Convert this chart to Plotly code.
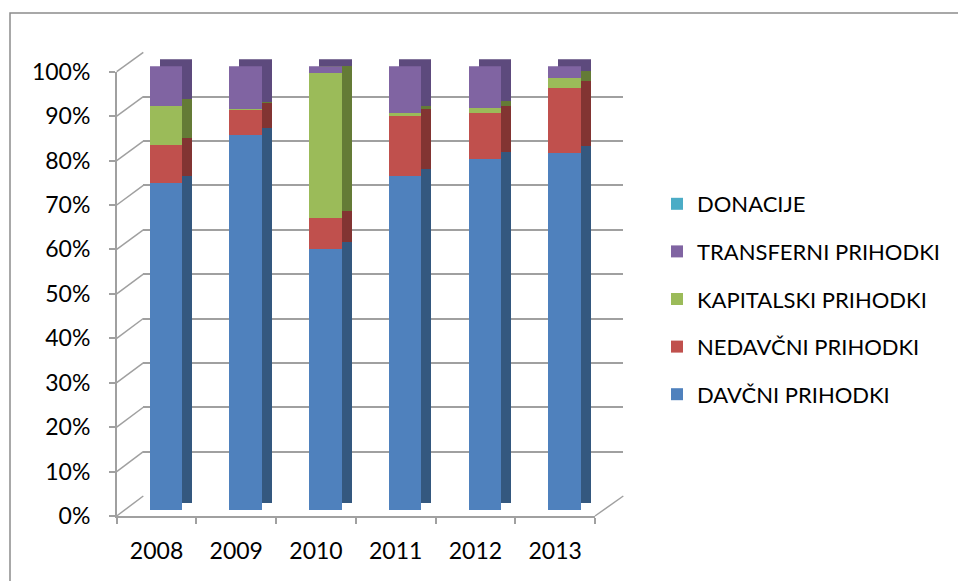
import plotly.graph_objects as go

# ---------------- data (percent shares) ----------------
years = ["2008", "2009", "2010", "2011", "2012", "2013"]
davcni = [73.7, 84.4, 58.7, 75.3, 79.0, 80.3]
nedavcni = [8.4, 5.7, 7.1, 13.6, 10.3, 14.8]
kapitalski = [9.0, 0.3, 32.7, 0.4, 1.2, 2.3]
transferni = [8.9, 9.6, 1.5, 10.7, 9.5, 2.6]
donacije = [0.0, 0.0, 0.0, 0.0, 0.0, 0.0]

series = [
    ("DAVČNI PRIHODKI", davcni, "#4F81BD", "#34587F"),
    ("NEDAVČNI PRIHODKI", nedavcni, "#C0504D", "#823432"),
    ("KAPITALSKI PRIHODKI", kapitalski, "#9BBB59", "#647B36"),
    ("TRANSFERNI PRIHODKI", transferni, "#8064A2", "#5D4A7D"),
    ("DONACIJE", donacije, "#4BACC6", "#2F7A8F"),
]
y_ticks = list(range(0, 101, 10))

# ---------------- geometry (pixels) ----------------
W, H = 958, 581
def px(x):
    return x / W
def py(y):
    return (H - y) / H

FRONT = dict(x0=116.7, x1=595.0, y0=516.0, y1=71.7)     # front axis plane
BACK = dict(x0=143.3, x1=623.3, y0=496.0, y1=52.3)      # back wall
BARS = dict(x0=126.2, x1=604.5, y0=510.0, y1=66.2)      # bar front faces
SIDE = dict(x0=136.2, x1=614.5, y0=503.0, y1=59.2)      # bar depth copies

GRID = "#A0A0A0"
FONT = "Lato"
BAR_W = 0.407

fig = go.Figure()

# empty traces so that the back wall and front axis subplots are drawn
fig.add_trace(go.Scatter(x=[], y=[], xaxis="x", yaxis="y", showlegend=False, hoverinfo="skip"))

# depth (side/top) faces
for name, vals, col, dark in series:
    fig.add_trace(go.Bar(
        x=years, y=vals, name=name, marker=dict(color=dark, line=dict(width=0)),
        width=BAR_W, xaxis="x2", yaxis="y2", showlegend=False, hoverinfo="skip",
    ))
# front faces
n = len(series)
for i, (name, vals, col, dark) in enumerate(series):
    fig.add_trace(go.Bar(
        x=years, y=vals, name=name, marker=dict(color=col, line=dict(width=0)),
        width=BAR_W, xaxis="x3", yaxis="y3", legendgroup=name, legendrank=n - i,
    ))

fig.add_trace(go.Scatter(x=[], y=[], xaxis="x4", yaxis="y4", showlegend=False, hoverinfo="skip"))

def dom(g):
    return [px(g["x0"]), px(g["x1"])], [py(g["y0"]), py(g["y1"])]

bx, by = dom(BACK)
sx, sy = dom(SIDE)
fx3, fy3 = dom(BARS)
fx, fy = dom(FRONT)

hidden = dict(showgrid=False, zeroline=False, showline=False, showticklabels=False, ticks="",
              automargin=False)

fig.update_layout(
    width=W, height=H, autosize=False,
    margin=dict(l=0, r=0, t=0, b=0, autoexpand=False),
    paper_bgcolor="white", plot_bgcolor="rgba(0,0,0,0)",
    barmode="stack", bargap=0,
    font=dict(family=FONT, color="#000000"),
    # back wall
    xaxis=dict(domain=bx, range=[-0.5, 5.5], anchor="y", **hidden),
    yaxis=dict(domain=by, range=[0, 100], anchor="x", showgrid=True, gridcolor=GRID,
               gridwidth=1.5, dtick=10, tick0=0, zeroline=False, showline=False,
               showticklabels=False, ticks="", automargin=False),
    # depth copies
    xaxis2=dict(domain=sx, range=[-0.5, 5.5], anchor="y2", type="category", **hidden),
    yaxis2=dict(domain=sy, range=[0, 100], anchor="x2", **hidden),
    # front faces
    xaxis3=dict(domain=fx3, range=[-0.5, 5.5], anchor="y3", type="category", **hidden),
    yaxis3=dict(domain=fy3, range=[0, 100], anchor="x3", **hidden),
    # front axis with labels
    xaxis4=dict(domain=fx, range=[-0.5, 5.5], anchor="y4", showgrid=False, zeroline=False,
                showline=True, linecolor=GRID, linewidth=1.5, automargin=False,
                tickmode="array", tickvals=list(range(len(years))), ticktext=years,
                ticks="", tickfont=dict(size=23, family=FONT, color="#000"),
                ticklabelstandoff=14,
                minor=dict(tickmode="array", tickvals=[i - 0.5 for i in range(len(years) + 1)],
                           ticks="outside", ticklen=6, tickcolor=GRID, tickwidth=1.5,
                           showgrid=False)),
    yaxis4=dict(domain=fy, range=[0, 100], anchor="x4", showgrid=False, zeroline=False,
                showline=True, linecolor=GRID, linewidth=1.5, automargin=False,
                tickmode="array", tickvals=y_ticks, ticktext=[f"{v}%" for v in y_ticks],
                ticks="outside", ticklen=6, tickcolor=GRID, tickwidth=1.5,
                tickfont=dict(size=23, family=FONT, color="#000"),
                ticklabelstandoff=14),
    legend=dict(x=px(657), y=py(183), xanchor="left", yanchor="top",
                traceorder="grouped", tracegroupgap=16,
                font=dict(size=22, family=FONT, color="#000"),
                bgcolor="rgba(0,0,0,0)"),
    showlegend=True,
)

shapes = []
# connectors front axis ticks -> back wall grid
for v in y_ticks:
    yf = FRONT["y0"] + (FRONT["y1"] - FRONT["y0"]) * v / 100
    yb = BACK["y0"] + (BACK["y1"] - BACK["y0"]) * v / 100
    shapes.append(dict(type="line", xref="paper", yref="paper",
                       x0=px(FRONT["x0"]), y0=py(yf), x1=px(BACK["x0"]), y1=py(yb),
                       line=dict(color=GRID, width=1.5), layer="below"))
# floor right edge
shapes.append(dict(type="line", xref="paper", yref="paper",
                   x0=px(FRONT["x1"]), y0=py(FRONT["y0"]), x1=px(BACK["x1"]), y1=py(BACK["y0"]),
                   line=dict(color=GRID, width=1.5), layer="below"))
# outer chart border
shapes.append(dict(type="rect", xref="paper", yref="paper",
                   x0=px(10), y0=py(13), x1=1.05, y1=-0.05,
                   line=dict(color="#8C8C8C", width=1.5), layer="below"))
fig.update_layout(shapes=shapes)

fig.write_html("out.html", post_script="document.body.style.margin='0';",
               config={"displayModeBar": False})
